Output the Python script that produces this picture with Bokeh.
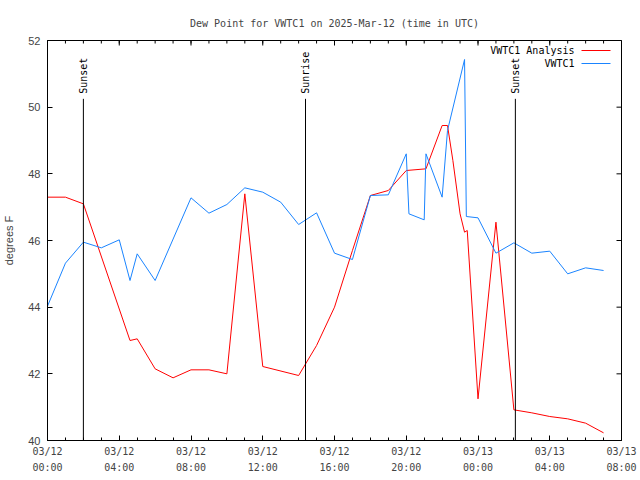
import math
import pandas as pd
from bokeh.plotting import figure
from bokeh.models import (Range1d, FixedTicker, DatetimeTickFormatter, Label, Arrow)
from bokeh.core.properties import value
from bokeh.embed import file_html
from bokeh.resources import INLINE

# ---- data ----
analysis_times = ["2025-03-12 00:00", "2025-03-12 01:00", "2025-03-12 02:00", "2025-03-12 04:36",
                  "2025-03-12 05:00", "2025-03-12 06:00", "2025-03-12 07:00", "2025-03-12 08:00",
                  "2025-03-12 09:00", "2025-03-12 10:00", "2025-03-12 11:00", "2025-03-12 12:00",
                  "2025-03-12 14:00", "2025-03-12 15:00", "2025-03-12 16:00", "2025-03-12 17:00",
                  "2025-03-12 18:00", "2025-03-12 19:00", "2025-03-12 20:00", "2025-03-12 21:06",
                  "2025-03-12 22:00", "2025-03-12 22:18", "2025-03-12 22:36", "2025-03-12 23:00",
                  "2025-03-12 23:15", "2025-03-12 23:24", "2025-03-13 00:00", "2025-03-13 01:00",
                  "2025-03-13 02:00", "2025-03-13 03:00", "2025-03-13 04:00", "2025-03-13 05:00",
                  "2025-03-13 06:00", "2025-03-13 07:00"]
analysis_vals = [47.3, 47.3, 47.1, 43.0,
                 43.05, 42.15, 41.88, 42.12,
                 42.12, 42.0, 47.4, 42.22,
                 41.95, 42.85, 44.0, 45.7,
                 47.35, 47.5, 48.1, 48.15,
                 49.45, 49.45, 48.4, 46.8,
                 46.25, 46.3, 41.25, 46.55,
                 40.92, 40.83, 40.72, 40.65,
                 40.52, 40.23]

obs_times = ["2025-03-12 00:00", "2025-03-12 01:00", "2025-03-12 02:00", "2025-03-12 03:00",
             "2025-03-12 04:00", "2025-03-12 04:36", "2025-03-12 05:00", "2025-03-12 06:00",
             "2025-03-12 08:00", "2025-03-12 09:00", "2025-03-12 10:00", "2025-03-12 11:00",
             "2025-03-12 12:00", "2025-03-12 13:00", "2025-03-12 14:00", "2025-03-12 15:00",
             "2025-03-12 16:00", "2025-03-12 17:00", "2025-03-12 18:00", "2025-03-12 19:00",
             "2025-03-12 20:00", "2025-03-12 20:09", "2025-03-12 21:00", "2025-03-12 21:06",
             "2025-03-12 22:00", "2025-03-12 22:18", "2025-03-12 23:15", "2025-03-12 23:21",
             "2025-03-13 00:00", "2025-03-13 01:00", "2025-03-13 02:00", "2025-03-13 03:00",
             "2025-03-13 04:00", "2025-03-13 05:00", "2025-03-13 06:00", "2025-03-13 07:00"]
obs_vals = [44.03, 45.32, 45.95, 45.78,
            46.02, 44.8, 45.6, 44.8,
            47.28, 46.82, 47.08, 47.58,
            47.45, 47.15, 46.48, 46.83,
            45.62, 45.43, 47.35, 47.37,
            48.6, 46.8, 46.62, 48.6,
            47.3, 49.3, 51.43, 46.72,
            46.68, 45.62, 45.93, 45.62,
            45.68, 45.0, 45.18, 45.1]

sun_times = ["2025-03-12 02:00", "2025-03-12 14:23", "2025-03-13 02:05"]
sun_labels = ["Sunset", "Sunrise", "Sunset"]
sun_line_top = 50.25

x_start = "2025-03-12 00:00"
x_end = "2025-03-13 08:00"
y_ticks = [40, 42, 44, 46, 48, 50, 52]

# ---- figure ----
MONO = "DejaVu Sans Mono"
SANS = "Liberation Sans"
RED = "#ff0000"
BLUE = "#1a84ff"

a_t = pd.to_datetime(analysis_times)
o_t = pd.to_datetime(obs_times)
s_t = pd.to_datetime(sun_times)
t0 = pd.Timestamp(x_start)
t1 = pd.Timestamp(x_end)
y0, y1 = y_ticks[0], y_ticks[-1]

p = figure(width=640, height=480, output_backend="svg", toolbar_location=None,
           x_axis_type="datetime",
           x_range=Range1d(t0, t1), y_range=Range1d(y0, y1),
           min_border_left=47, min_border_right=19, min_border_top=40, min_border_bottom=40)

p.title.text = "Dew Point for VWTC1 on 2025-Mar-12 (time in UTC)"
p.title.text_font = MONO
p.title.text_font_size = "10px"
p.title.text_font_style = "normal"
p.title.align = "center"
p.title.offset = 0
p.title.standoff = 24

p.grid.visible = False
p.outline_line_color = "black"
p.outline_line_width = 1
p.background_fill_color = "white"
p.border_fill_color = "white"

major_ts = pd.date_range(t0, t1, freq="4h")
minor_ts = pd.date_range(t0, t1, freq="1h")
ms = lambda ts: ts.value / 1e6
xticker = FixedTicker(ticks=[ms(t) for t in major_ts], minor_ticks=[ms(t) for t in minor_ts])
fmt = "%m/%d\n%H:%M"
xformatter = DatetimeTickFormatter(microseconds=fmt, milliseconds=fmt, seconds=fmt,
                                   minsec=fmt, minutes=fmt, hourmin=fmt, hours=fmt,
                                   days=fmt, months=fmt, years=fmt)
yticker = FixedTicker(ticks=y_ticks, minor_ticks=[])

xa = p.xaxis[0]
xa.ticker = xticker
xa.formatter = xformatter
ya = p.yaxis[0]
ya.ticker = yticker
ya.axis_label = "degrees F"

for ax in (xa, ya):
    ax.major_tick_in = 5
    ax.major_tick_out = 0
    ax.minor_tick_in = 3
    ax.minor_tick_out = 0
    ax.axis_line_color = "black"
    ax.major_tick_line_color = "black"
    ax.minor_tick_line_color = "black"

xa.major_label_text_font = MONO
xa.major_label_text_font_size = "10px"
xa.major_label_text_line_height = 1.5
xa.major_label_standoff = 5
ya.major_label_text_font = SANS
ya.major_label_text_font_size = "11px"
ya.major_label_standoff = 7
ya.axis_label_text_font = SANS
ya.axis_label_text_font_size = "11px"
ya.axis_label_text_font_style = "normal"
ya.axis_label_standoff = 10

# mirrored ticks on the top and right edges (half of each dash is clipped by the frame)
p.scatter(x=major_ts, y=[y1] * len(major_ts), marker="dash", size=10, angle=math.pi / 2,
          line_color="black", line_width=1)
p.scatter(x=minor_ts, y=[y1] * len(minor_ts), marker="dash", size=6, angle=math.pi / 2,
          line_color="black", line_width=1)
p.scatter(x=[t1] * len(y_ticks), y=y_ticks, marker="dash", size=10,
          line_color="black", line_width=1)

# data lines
p.line(a_t, analysis_vals, line_color=RED, line_width=1)
p.line(o_t, obs_vals, line_color=BLUE, line_width=1)

# sunrise / sunset markers
p.segment(x0=s_t, y0=[y0] * len(s_t), x1=s_t, y1=[sun_line_top] * len(s_t),
          line_color="black", line_width=1)
p.text(x=s_t, y=[sun_line_top] * len(s_t), text=sun_labels, angle=math.pi / 2,
       text_align="left", text_baseline="middle", y_offset=-5,
       text_font=value(MONO), text_font_size="10px", text_color="black")

# legend (gnuplot style: text then line sample)
legend_items = [("VWTC1 Analysis", RED, 390), ("VWTC1", BLUE, 377)]
for txt, col, yy in legend_items:
    p.add_layout(Label(x=527, y=yy, x_units="screen", y_units="screen", text=txt,
                       text_align="right", text_baseline="middle", text_font_style="normal",
                       text_font=MONO, text_font_size="10px", text_color="black"))
    p.add_layout(Arrow(x_start=534, y_start=yy, x_end=563, y_end=yy,
                       start_units="screen", end_units="screen",
                       start=None, end=None, line_color=col, line_width=1))

open("out.html", "w").write(file_html(p, INLINE))
